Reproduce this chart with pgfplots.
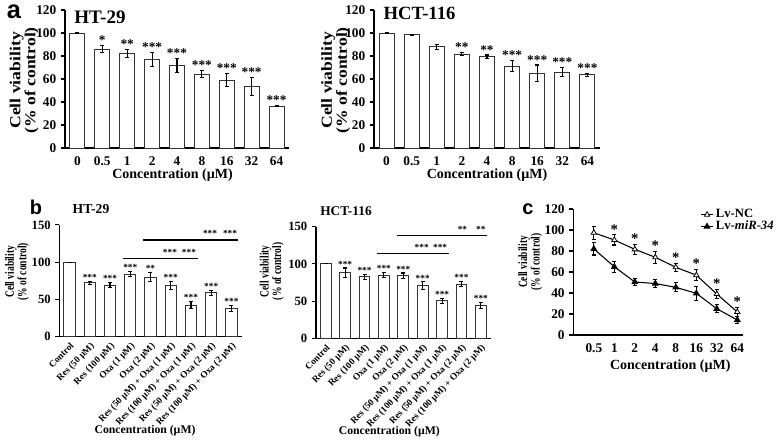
\documentclass[border=0pt]{standalone}
\usepackage{pgfplots}
\usepackage{pgfplotstable}
\pgfplotsset{compat=1.18}
\usepackage{fontspec}
\setmainfont{Liberation Serif}
\newfontfamily\arial{Liberation Sans}

% panel a (x = category index, y = % viability, e = SD, s = significance)
\pgfplotstableread{
x y e s
0 100  0   {}
1 85.8 3   *
2 82.3 3.5 **
3 77   6   ***
4 72   6   ***
5 64.3 3   ***
6 59   5.5 ***
7 53.3 8   ***
8 36.5 0.6 ***
}\aHT
\pgfplotstableread{
x y e s
0 100  0   {}
1 98.5 0.6 {}
2 88   2   {}
3 81.7 1.5 **
4 79.4 1.5 **
5 71.3 4.6 ***
6 65.2 7   ***
7 66   4   ***
8 63.5 1   ***
}\aHCT
% panel b
\pgfplotstableread{
x y e s
0 100  0   {}
1 72.4 2   ***
2 69.3 3.5 ***
3 84   3.4 ***
4 79.6 6   **
5 68.4 5.6 ***
6 42.5 5   ***
7 59   3.6 ***
8 38   4   ***
}\bHT
\pgfplotstableread{
x y e s
0 100  0   {}
1 88.2 6.3 ***
2 82.8 3.4 ***
3 85   3   ***
4 83.8 4   ***
5 70.8 5   ***
6 50.3 3.6 ***
7 73   3.4 ***
8 44.5 3.8 ***
}\bHCT
% panel c
\pgfplotstableread{
x NC eNC miR emiR s
0 97.4 6.3 82   5.8 {}
1 90.5 4.8 65   5.2 *
2 81.6 4.6 50.5 3.7 *
3 74   5.5 49   4   *
4 64.5 3.7 45.4 4.3 *
5 57   5.4 39.7 6.7 *
6 39   4.3 25   4   *
7 22   4   14.3 3   *
}\cLv

\pgfplotsset{
  panel/.style={
    scale only axis, anchor=south west, clip=false,
    axis x line*=bottom, axis y line*=left,
    axis line style={black, line width=0.8pt},
    ymin=0,
    tick align=outside, major tick length=3pt,
    ytick style={black, line width=0.8pt},
    xtick style={draw=none},
    /pgf/number format/assume math mode=true,
    tick label style={font=\bfseries},
  },
  bars/.style={ybar, bar width=#1, fill=white, draw=black!80, line width=0.75pt,
    error bars/.cd, y dir=both, y explicit,
    error bar style={black, line width=0.8pt},
    error mark options={rotate=90, mark size=1.5pt, line width=0.8pt}},
  stars/.style={draw=none, mark=none, nodes near coords, point meta=explicit symbolic,
    nodes near coords style={font=#1, anchor=south, inner sep=0.5pt}},
  sig/.style={black, line width=1.1pt, mark=none},
  btick/.style={xtick={0,...,8},
    xticklabels={Control,Res (50 µM),Res (100 µM),Oxa (1 µM),Oxa (2 µM),Res (50 µM) + Oxa (1 µM),Res (100 µM) + Oxa (1 µM),Res (50 µM) + Oxa (2 µM),Res (100 µM) + Oxa (2 µM)},
    y tick label style={font=\fontsize{9.5}{11}\selectfont\bfseries},
    x tick label style={font=\fontsize{7}{7}\selectfont\bfseries, rotate=46, anchor=north east, inner sep=0.5pt}},
}
\newcommand{\ylabtext}[3]{\scalebox{#1}[1]{\fontsize{#2}{#3}\selectfont\bfseries
  \begin{tabular}{@{}c@{}}Cell viability\\(\% of control)\end{tabular}}}

\begin{document}
\begin{tikzpicture}
\useasboundingbox (0,0) rectangle (583.5pt,-329.25pt);

% ---------- a: HT-29 ----------
\begin{axis}[panel, at={(48.75pt,-111pt)},
  width=168pt, height=103.5pt,
  xmin=-0.5, xmax=8.5, ymax=120, ytick={0,20,...,120},
  xtick={0,...,8}, xticklabels={0,0.5,1,2,4,8,16,32,64},
  tick label style={font=\fontsize{10}{12}\selectfont\bfseries},
  xlabel={Concentration (µM)},
  xlabel style={at={(axis description cs:0.48,-0.2)}, anchor=center, font=\fontsize{10.5}{12}\selectfont\bfseries},
  ylabel={\ylabtext{1.15}{11.5}{10.5}},
  ylabel style={at={(axis description cs:-0.18,0.49)}, anchor=center},
]
\addplot[bars=0.6] table[x=x, y=y, y error=e] {\aHT};
\addplot[stars=\fontsize{10}{12}\selectfont\bfseries] table[x=x, y expr=\thisrow{y}+\thisrow{e}, meta=s] {\aHT};
\end{axis}

% ---------- a: HCT-116 ----------
\begin{axis}[panel, at={(280.5pt,-111pt)},
  width=169.5pt, height=103.5pt,
  xmin=-0.5, xmax=8.5, ymax=120, ytick={0,20,...,120},
  xtick={0,...,8}, xticklabels={0,0.5,1,2,4,8,16,32,64},
  tick label style={font=\fontsize{10}{12}\selectfont\bfseries},
  xlabel={Concentration (µM)},
  xlabel style={at={(axis description cs:0.5,-0.2)}, anchor=center, font=\fontsize{10.5}{12}\selectfont\bfseries},
  ylabel={\ylabtext{1.15}{11.5}{10.5}},
  ylabel style={at={(axis description cs:-0.168,0.49)}, anchor=center},
]
\addplot[bars=0.6] table[x=x, y=y, y error=e] {\aHCT};
\addplot[stars=\fontsize{10}{12}\selectfont\bfseries] table[x=x, y expr=\thisrow{y}+\thisrow{e}, meta=s] {\aHCT};
\end{axis}

% ---------- b: HT-29 ----------
\begin{axis}[panel, btick, at={(44.55pt,-252.5pt)},
  width=136.65pt, height=83.8pt,
  xmin=-0.5, xmax=8.5, ymax=150, ytick={0,50,100,150},
  xlabel={Concentration (µM)},
  xlabel style={at={(axis description cs:0.47,-0.84)}, anchor=center, font=\fontsize{8.8}{10}\selectfont\bfseries},
  ylabel={\ylabtext{0.75}{9.5}{9}},
  ylabel style={at={(axis description cs:-0.23,0.58)}, anchor=center},
]
\addplot[bars=0.55] table[x=x, y=y, y error=e] {\bHT};
\addplot[stars=\fontsize{7}{8}\selectfont\bfseries] table[x=x, y expr=\thisrow{y}+\thisrow{e}, meta=s] {\bHT};
\addplot[sig] coordinates {(2.63,105) (6.33,105)};
\addplot[sig] coordinates {(3.64,129.6) (8.3,129.6)};
\addplot[draw=none, mark=none, nodes near coords, point meta=explicit symbolic,
  nodes near coords style={font=\fontsize{7}{8}\selectfont\bfseries, anchor=center}]
  coordinates {(4.96,113)[***] (5.9,113)[***] (6.94,138.5)[***] (7.93,138.5)[***]};
\end{axis}

% ---------- b: HCT-116 ----------
\begin{axis}[panel, btick, at={(237pt,-253.9pt)},
  width=130.95pt, height=84pt,
  xmin=-0.5, xmax=8.5, ymax=150, ytick={0,50,100,150},
  xlabel={Concentration (µM)},
  xlabel style={at={(axis description cs:0.42,-0.83)}, anchor=center, font=\fontsize{8.8}{10}\selectfont\bfseries},
  ylabel={\ylabtext{0.75}{9.5}{9}},
  ylabel style={at={(axis description cs:-0.25,0.6)}, anchor=center},
]
\addplot[bars=0.55] table[x=x, y=y, y error=e] {\bHCT};
\addplot[stars=\fontsize{7}{8}\selectfont\bfseries] table[x=x, y expr=\thisrow{y}+\thisrow{e}, meta=s] {\bHCT};
\addplot[sig] coordinates {(2.63,114.2) (6.33,114.2)};
\addplot[sig] coordinates {(3.66,137.8) (8.3,137.8)};
\addplot[draw=none, mark=none, nodes near coords, point meta=explicit symbolic,
  nodes near coords style={font=\fontsize{7}{8}\selectfont\bfseries, anchor=center}]
  coordinates {(4.95,122)[***] (5.9,122)[***] (7.05,146.5)[**] (8.0,146.5)[**]};
\end{axis}

% ---------- c: Lv-NC vs Lv-miR-34 ----------
\begin{axis}[panel, at={(430pt,-251.25pt)},
  width=127.6pt, height=94.5pt,
  xmin=-1, xmax=7.3, ymax=120, ytick={0,20,...,120},
  xtick={0,...,7}, xticklabels={0.5,1,2,4,8,16,32,64},
  tick label style={font=\fontsize{10}{12}\selectfont\bfseries},
  xlabel={Concentration (µM)},
  xlabel style={at={(axis description cs:0.57,-0.245)}, anchor=center, font=\fontsize{10.5}{12}\selectfont\bfseries},
  ylabel={\ylabtext{0.75}{9.5}{9}},
  ylabel style={at={(axis description cs:-0.25,0.58)}, anchor=center},
  legend style={at={(axis description cs:0.74,1.03)}, anchor=north west, draw=none, fill=none,
    font=\fontsize{9.5}{10}\selectfont\bfseries, row sep=-3pt, inner sep=1pt},
  legend cell align=left,
  legend image code/.code={\draw[mark repeat=2, mark phase=2, #1] plot coordinates {(0cm,0cm) (0.15cm,0cm) (0.3cm,0cm)};},
]
\addplot[black, line width=0.8pt, mark=triangle*, mark size=2.3pt, mark options={fill=white, line width=0.6pt},
  error bars/.cd, y dir=both, y explicit, error bar style={black, line width=0.8pt},
  error mark options={rotate=90, mark size=1.5pt, line width=0.8pt}]
  table[x=x, y=NC, y error=eNC] {\cLv};
\addlegendentry{Lv-NC}
\addplot[black, line width=0.8pt, mark=triangle*, mark size=2.3pt, mark options={fill=black},
  error bars/.cd, y dir=both, y explicit, error bar style={black, line width=0.8pt},
  error mark options={rotate=90, mark size=1.5pt, line width=0.8pt}]
  table[x=x, y=miR, y error=emiR] {\cLv};
\addlegendentry{Lv-\textit{miR-34}}
\addplot[stars=\fontsize{11}{12}\selectfont\bfseries, forget plot] table[x=x, y expr=\thisrow{NC}+\thisrow{eNC}, meta=s] {\cLv};
\end{axis}

% titles and panel letters
\node[font=\arial\fontsize{19}{20}\selectfont\bfseries] at (10.5pt,-9pt) {a};
\node[font=\arial\fontsize{15}{16}\selectfont\bfseries] at (27pt,-155.6pt) {b};
\node[font=\arial\fontsize{15}{16}\selectfont\bfseries] at (396pt,-157pt) {c};
\node[font=\fontsize{14.3}{16}\selectfont\bfseries] at (75pt,-12.75pt) {HT-29};
\node[font=\fontsize{14}{16}\selectfont\bfseries] at (314.6pt,-10.1pt) {HCT-116};
\node[font=\fontsize{10.25}{12}\selectfont\bfseries] at (68.25pt,-156.75pt) {HT-29};
\node[font=\fontsize{10}{12}\selectfont\bfseries] at (259.5pt,-158.25pt) {HCT-116};
\end{tikzpicture}
\end{document}
